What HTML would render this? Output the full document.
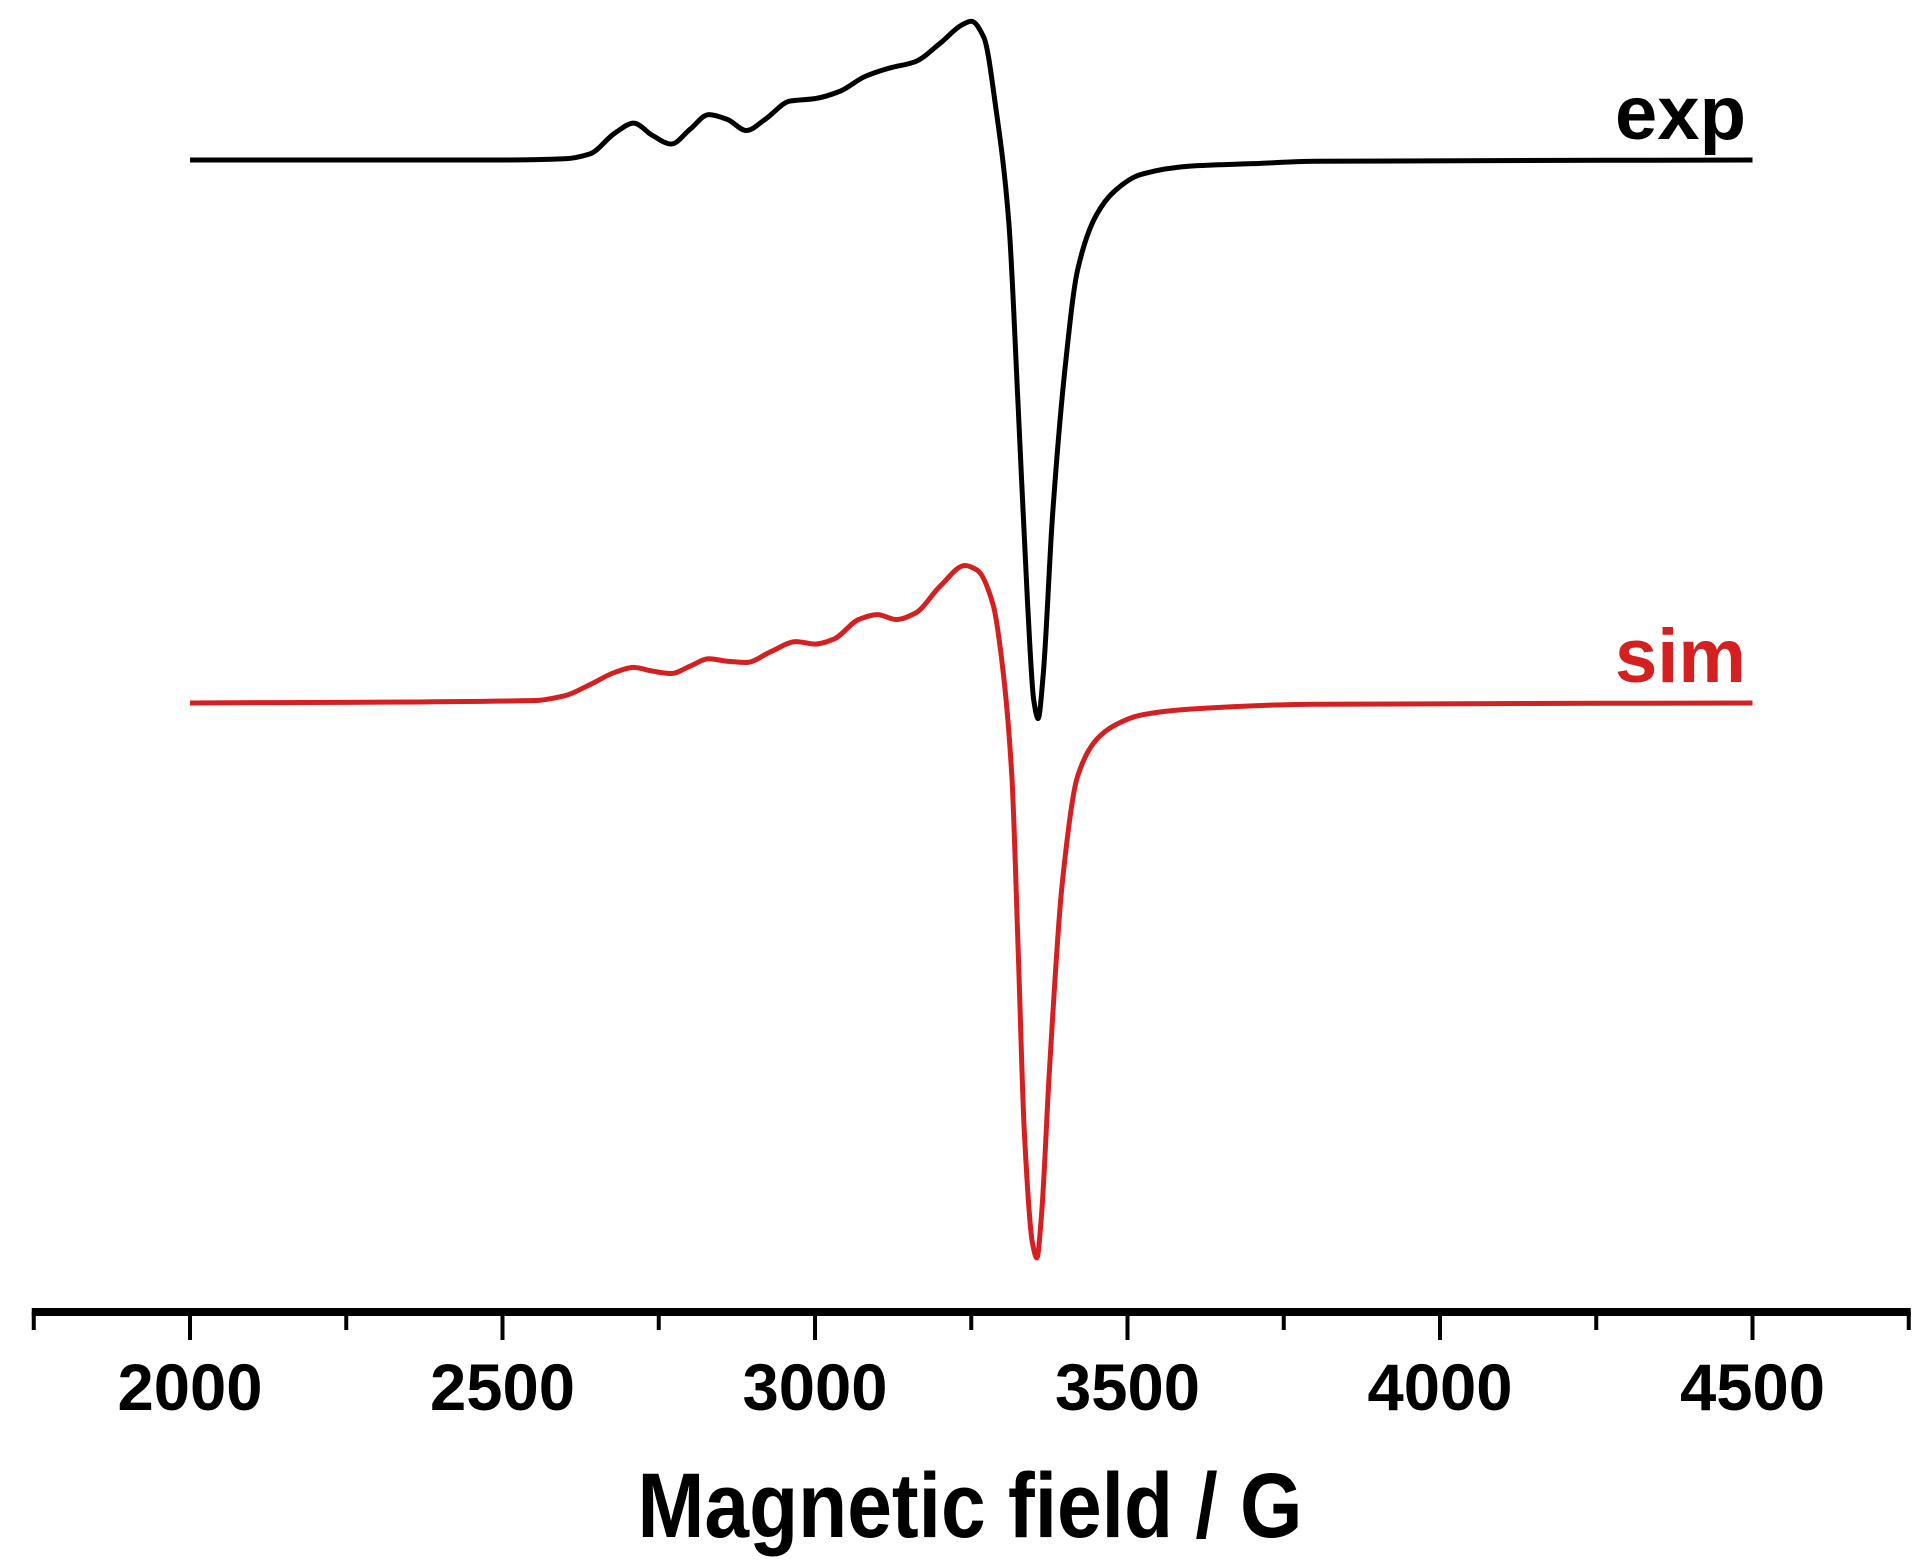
<!DOCTYPE html>
<html><head><meta charset="utf-8"><style>
html,body{margin:0;padding:0;background:#fff;}
svg{display:block;}
text{font-family:"Liberation Sans",Arial,sans-serif;font-weight:bold;}
</style></head><body>
<svg id="chart" width="1925" height="1563" viewBox="0 0 1925 1563" xmlns="http://www.w3.org/2000/svg">
<g id="axis"></g>
<g id="series"></g>
<text x="970" y="1537" text-anchor="middle" font-size="92" textLength="665" lengthAdjust="spacingAndGlyphs">Magnetic field / G</text>
<text x="1746" y="139" text-anchor="end" font-size="76" fill="#000">exp</text>
<text x="1746" y="682" text-anchor="end" font-size="76" fill="#d42020">sim</text>
</svg>
<script>
const majorTicks=[2000,2500,3000,3500,4000,4500];
const minorTicks=[1750,2250,2750,3250,3750,4250,4750];
const expField=[2000,2500,2600,2640,2680,2710,2740,2770,2800,2830,2860,2890,2920,2960,3000,3040,3080,3120,3160,3200,3235,3250,3270,3290,3310,3325,3340,3350,3357,3365,3380,3400,3420,3450,3480,3520,3600,3700,3800,4500];
const expVal=[0,0,1,5,22,30,20,13,25,37,33,24,33,48,50,56,68,75,80,95,110,113,100,40,-50,-200,-360,-440,-455,-420,-290,-170,-90,-45,-25,-12,-5,-3,-1,0];
const simField=[2000,2550,2600,2640,2680,2710,2740,2770,2800,2830,2860,2890,2930,2970,3000,3030,3070,3100,3130,3160,3200,3240,3260,3285,3300,3315,3325,3335,3348,3355,3362,3375,3395,3420,3450,3480,3520,3600,3800,4500];
const simVal=[0,2,6,15,25,29,26,24,30,36,34,33,42,50,48,52,68,72,68,73,95,112,108,80,30,-60,-200,-350,-440,-452,-420,-300,-150,-60,-30,-18,-10,-5,-1,0];

const NS='http://www.w3.org/2000/svg';
function xs(g){return 190+(g-2000)*0.625;}
function ys(v,base){return base-v*1.2277;}
const axis=document.getElementById('axis');
function mk(tag,attrs,parent){const e=document.createElementNS(NS,tag);for(const k in attrs)e.setAttribute(k,attrs[k]);parent.appendChild(e);return e;}
const line=mk('line',{x1:xs(1750)-2,x2:xs(4750)+2,y1:1312,y2:1312,stroke:'#000','stroke-width':8},axis);


majorTicks.forEach(t=>{
  const l=mk('line',{x1:xs(t),x2:xs(t),y1:1312,y2:1340,stroke:'#000','stroke-width':4},axis);
  
  
  const tx=mk('text',{x:xs(t),y:1410,'text-anchor':'middle','font-size':66,textLength:145,lengthAdjust:'spacingAndGlyphs'},axis);
  tx.textContent=t;
  
  
});
minorTicks.forEach(t=>{
  const l=mk('line',{x1:xs(t),x2:xs(t),y1:1312,y2:1330,stroke:'#000','stroke-width':4},axis);
  
  
});
function pathFor(F,V,base){
  const n=F.length, d=[], m=new Array(n);
  for(let i=0;i<n-1;i++)d.push((V[i+1]-V[i])/(F[i+1]-F[i]));
  m[0]=d[0];m[n-1]=d[n-2];
  for(let i=1;i<n-1;i++){
    if(d[i-1]*d[i]<=0)m[i]=0;
    else{const w1=2*(F[i+1]-F[i])+(F[i]-F[i-1]),w2=(F[i+1]-F[i])+2*(F[i]-F[i-1]);m[i]=(w1+w2)/(w1/d[i-1]+w2/d[i]);}
  }
  let s='M'+xs(F[0])+','+ys(V[0],base);
  for(let i=0;i<n-1;i++){
    const h=F[i+1]-F[i];
    const x1=F[i]+h/3,y1=V[i]+m[i]*h/3,x2=F[i+1]-h/3,y2=V[i+1]-m[i+1]*h/3;
    s+=' C'+xs(x1)+','+ys(y1,base)+' '+xs(x2)+','+ys(y2,base)+' '+xs(F[i+1])+','+ys(V[i+1],base);
  }
  return s;
}
const ser=document.getElementById('series');
const pe=mk('path',{d:pathFor(expField,expVal,160),fill:'none',stroke:'#000','stroke-width':5,'stroke-linejoin':'round'},ser);


const ps=mk('path',{d:pathFor(simField,simVal,703),fill:'none',stroke:'#d42020','stroke-width':5,'stroke-linejoin':'round'},ser);


</script>
</body></html>
